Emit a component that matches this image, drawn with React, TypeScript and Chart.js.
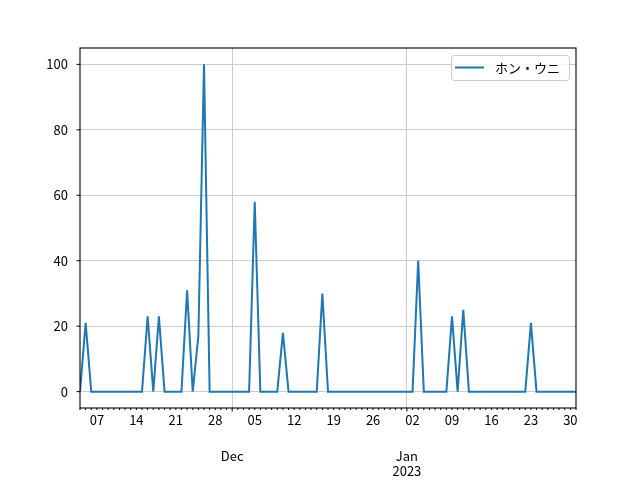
import React, { useEffect, useRef } from "react";
import { Chart, registerables } from "chart.js";

Chart.register(...registerables);

// Daily series, first day 2022-11-04, last day 2023-01-31
const startYear = 2022;
const startMonth = 10; // November (0-based)
const startDay = 4;
const seriesName = "ホン・ウニ";
const values: number[] = [
  0, 21, 0, // Nov 4-6
  0, 0, 0, 0, 0, 0, 0, // Nov 7-13
  0, 0, 23, 0, 23, 0, 0, // Nov 14-20
  0, 0, 31, 0, 17, 100, 0, // Nov 21-27
  0, 0, 0, 0, 0, 0, 0, // Nov 28-Dec 4
  58, 0, 0, 0, 0, 18, 0, // Dec 5-11
  0, 0, 0, 0, 0, 30, 0, // Dec 12-18
  0, 0, 0, 0, 0, 0, 0, // Dec 19-25
  0, 0, 0, 0, 0, 0, 0, // Dec 26-Jan 1
  0, 40, 0, 0, 0, 0, 0, // Jan 2-8
  23, 0, 25, 0, 0, 0, 0, // Jan 9-15
  0, 0, 0, 0, 0, 0, 0, // Jan 16-22
  21, 0, 0, 0, 0, 0, 0, // Jan 23-29
  0, 0, // Jan 30-31
];
const yTickValues = [0, 20, 40, 60, 80, 100];
const monthLabels: { [key: string]: string[] } = {
  "2022-11": ["Dec"],
  "2023-0": ["Jan", "2023"],
};

const FONT = "'Noto Sans CJK JP', 'DejaVu Sans', sans-serif";
const GRID = "#cccccc";

function dateOf(i: number): Date {
  return new Date(startYear, startMonth, startDay + i);
}

export default function App() {
  const ref = useRef<HTMLCanvasElement | null>(null);
  useEffect(() => {
    if (!ref.current) return;
    const n = values.length;
    const isMonthStart = (i: number) => dateOf(i).getDate() === 1;

    const overlay = {
      id: "overlay",
      afterDraw(chart: any) {
        const { ctx, chartArea } = chart;
        const x = chart.scales.x;
        const y = chart.scales.y;
        ctx.save();
        ctx.strokeStyle = "#000";
        ctx.lineWidth = 1;
        // x tick marks
        for (let i = 0; i < n; i++) {
          const px = x.getPixelForValue(i);
          const len = isMonthStart(i) ? 3.5 : 2;
          ctx.beginPath();
          ctx.moveTo(px, chartArea.bottom);
          ctx.lineTo(px, chartArea.bottom + len);
          ctx.stroke();
        }
        // y tick marks
        for (const v of yTickValues) {
          const py = y.getPixelForValue(v);
          ctx.beginPath();
          ctx.moveTo(chartArea.left - 3.5, py);
          ctx.lineTo(chartArea.left, py);
          ctx.stroke();
        }
        // spines
        ctx.lineWidth = 1.1;
        ctx.strokeRect(
          chartArea.left,
          chartArea.top,
          chartArea.right - chartArea.left,
          chartArea.bottom - chartArea.top
        );
        // month labels
        ctx.fillStyle = "#000";
        ctx.font = `13px ${FONT}`;
        ctx.textAlign = "center";
        ctx.textBaseline = "middle";
        for (let i = 0; i < n; i++) {
          if (!isMonthStart(i)) continue;
          const d = dateOf(i);
          const lines = monthLabels[`${d.getFullYear()}-${d.getMonth()}`];
          if (!lines) continue;
          const px = x.getPixelForValue(i);
          lines.forEach((t, k) => {
            ctx.fillText(t, px, chartArea.bottom + 48 + k * 15);
          });
        }
        // legend
        const bx = 451, by = 55, bw = 118, bh = 25;
        ctx.beginPath();
        (ctx as any).roundRect(bx + 0.5, by + 0.5, bw, bh, 3);
        ctx.fillStyle = "rgba(255,255,255,0.8)";
        ctx.fill();
        ctx.strokeStyle = "#cccccc";
        ctx.lineWidth = 1;
        ctx.stroke();
        ctx.beginPath();
        ctx.strokeStyle = "#1f77b4";
        ctx.lineWidth = 2;
        ctx.moveTo(455, 67.5);
        ctx.lineTo(484, 67.5);
        ctx.stroke();
        ctx.fillStyle = "#000";
        ctx.textAlign = "left";
        ctx.fillText(seriesName, 495, 68);
        ctx.restore();
      },
    };

    const chart = new Chart(ref.current, {
      type: "line",
      data: {
        datasets: [
          {
            label: seriesName,
            data: values.map((v, i) => ({ x: i, y: v })),
            borderColor: "#1f77b4",
            backgroundColor: "#1f77b4",
            borderWidth: 2,
            pointRadius: 0,
            tension: 0,
          },
        ],
      },
      options: {
        animation: false,
        responsive: false,
        maintainAspectRatio: false,
        layout: { padding: { left: 0, top: 48, right: 64, bottom: 0 } },
        plugins: { legend: { display: false }, tooltip: { enabled: false } },
        scales: {
          x: {
            type: "linear",
            min: 0,
            max: n - 1,
            afterBuildTicks: (scale: any) => {
              scale.ticks = values.map((_, i) => ({ value: i }));
            },
            afterFit: (scale: any) => {
              scale.height = 72;
            },
            border: { display: false },
            grid: {
              drawTicks: false,
              color: (c: any) =>
                c.tick && isMonthStart(c.tick.value) ? GRID : "rgba(0,0,0,0)",
              lineWidth: 1,
            },
            ticks: {
              autoSkip: false,
              maxRotation: 0,
              padding: 4,
              color: "#000",
              font: { family: FONT, size: 13 },
              callback: (v: any) => {
                const d = dateOf(Number(v));
                if (d.getDay() === 1) {
                  return String(d.getDate()).padStart(2, "0");
                }
                return "";
              },
            },
          },
          y: {
            type: "linear",
            min: -5,
            max: 105,
            afterBuildTicks: (scale: any) => {
              scale.ticks = yTickValues.map((v) => ({ value: v }));
            },
            afterFit: (scale: any) => {
              scale.width = 80;
            },
            border: { display: false },
            grid: { drawTicks: false, color: GRID, lineWidth: 1 },
            ticks: {
              padding: 12,
              color: "#000",
              font: { family: FONT, size: 13 },
            },
          },
        },
      },
      plugins: [overlay],
    });
    return () => chart.destroy();
  }, []);

  return (
    <div style={{ position: "absolute", left: 0, top: 0, width: 640, height: 480, background: "#fff" }}>
      <canvas ref={ref} width={640} height={480} style={{ display: "block" }} />
    </div>
  );
}
